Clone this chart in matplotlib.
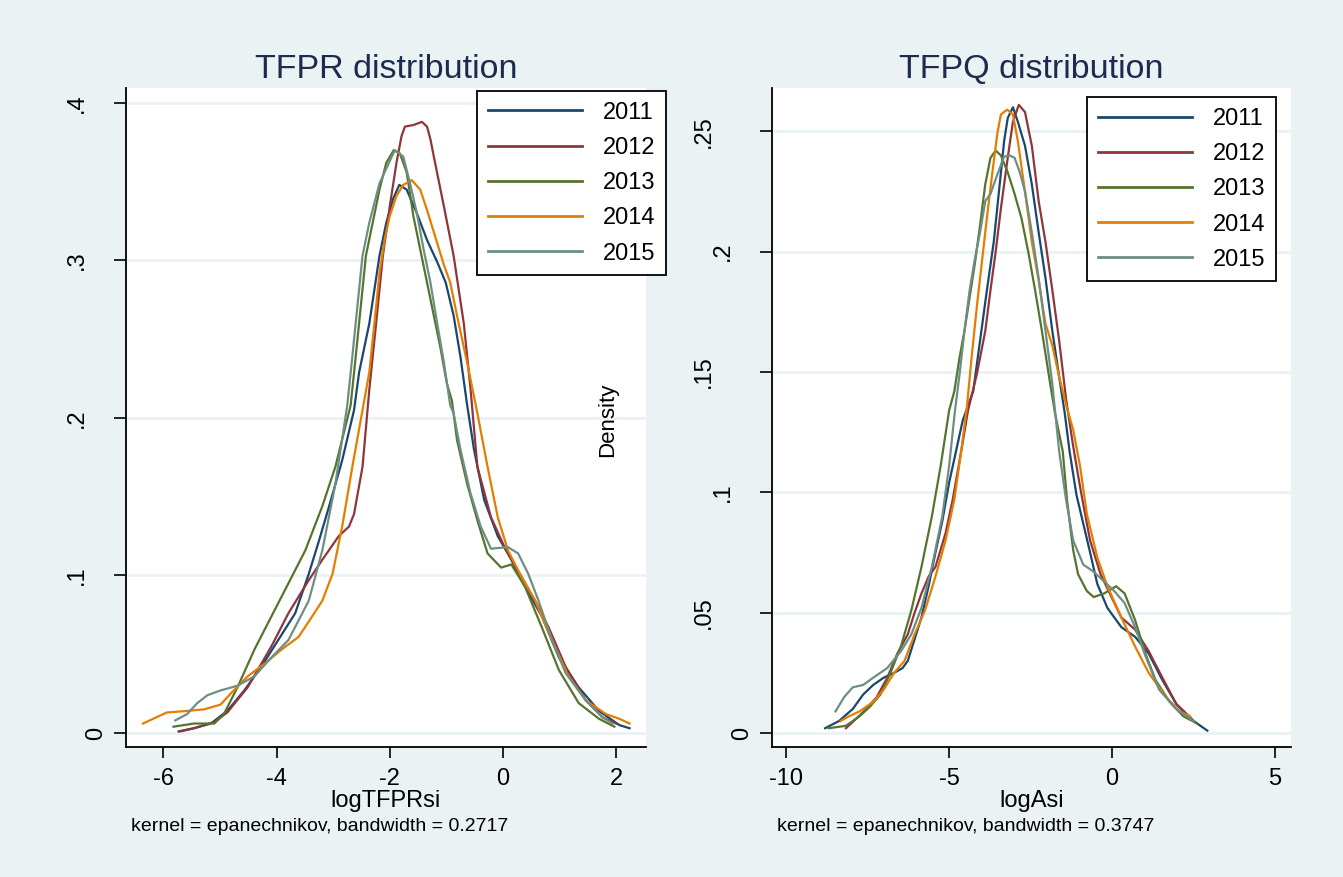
import numpy as np
import matplotlib.pyplot as plt

plt.rcParams['font.family'] = ['Liberation Sans', 'DejaVu Sans']

BG = '#EAF2F3'
TITLE_COLOR = '#1E2A4E'
years = ['2011', '2012', '2013', '2014', '2015']
colors = ['#1A476F', '#90353B', '#55752F', '#E37E00', '#6E8E84']

# TFPR distribution (logTFPRsi), density curves
tfpr_x_2011 = [-5.73, -5.46, -5.16, -4.87, -4.57, -4.27, -3.97, -3.67, -3.43, -3.25, -3.07, -2.84, -2.63, -2.54,
               -2.36, -2.18, -2.06, -1.94, -1.83, -1.70, -1.52, -1.34, -1.16, -1.01, -0.87, -0.75, -0.63, -0.51,
               -0.33, -0.09, 0.15, 0.39, 0.69, 0.99, 1.34, 1.70, 2.06, 2.24]
tfpr_y_2011 = [.001, .003, .006, .014, .027, .042, .059, .076, .101, .122, .144, .173, .205, .229,
               .260, .303, .324, .339, .348, .345, .330, .313, .299, .286, .265, .239, .208, .180,
               .148, .125, .110, .093, .074, .048, .029, .014, .005, .003]
tfpr_x_2012 = [-5.70, -5.46, -5.10, -4.87, -4.51, -4.09, -3.79, -3.43, -3.19, -2.90, -2.72, -2.63, -2.48, -2.36,
               -2.24, -2.12, -2.00, -1.88, -1.79, -1.73, -1.58, -1.43, -1.34, -1.28, -1.22, -1.04, -0.87, -0.69,
               -0.57, -0.45, -0.21, 0.03, 0.27, 0.57, 0.81, 1.11, 1.46, 1.76, 2.00]
tfpr_y_2012 = [.001, .003, .007, .013, .029, .055, .076, .097, .110, .125, .131, .139, .169, .218,
               .260, .303, .334, .362, .379, .385, .386, .388, .385, .377, .366, .334, .303, .260,
               .218, .169, .137, .118, .103, .084, .067, .042, .021, .010, .006]
tfpr_x_2013 = [-5.82, -5.46, -5.10, -4.93, -4.69, -4.39, -4.09, -3.79, -3.49, -3.19, -2.96, -2.69, -2.60, -2.51,
               -2.42, -2.30, -2.18, -2.06, -1.93, -1.82, -1.70, -1.58, -1.46, -1.34, -1.22, -1.10, -0.99, -0.90,
               -0.81, -0.63, -0.45, -0.27, -0.03, 0.15, 0.39, 0.69, 0.99, 1.34, 1.70, 1.97]
tfpr_y_2013 = [.004, .006, .006, .012, .029, .053, .074, .095, .116, .144, .169, .208, .239, .271,
               .303, .324, .345, .362, .370, .368, .356, .328, .307, .286, .265, .244, .222, .211,
               .186, .158, .135, .114, .105, .107, .093, .067, .040, .019, .009, .004]
tfpr_x_2014 = [-6.36, -6.12, -5.94, -5.58, -5.28, -4.99, -4.81, -4.51, -4.21, -3.91, -3.61, -3.37, -3.19, -3.01,
               -2.84, -2.66, -2.48, -2.36, -2.27, -2.18, -2.09, -2.00, -1.88, -1.76, -1.61, -1.46, -1.34, -1.22,
               -1.04, -0.93, -0.81, -0.63, -0.45, -0.27, -0.09, 0.09, 0.33, 0.57, 0.87, 1.16, 1.46, 1.82, 2.06, 2.24]
tfpr_y_2014 = [.006, .010, .013, .014, .015, .018, .025, .036, .044, .053, .061, .074, .084, .101,
               .131, .169, .205, .229, .260, .292, .313, .328, .341, .348, .351, .345, .332, .318,
               .297, .286, .265, .235, .203, .169, .137, .116, .099, .084, .059, .036, .021, .012, .009, .006]
tfpr_x_2015 = [-5.79, -5.58, -5.40, -5.22, -4.99, -4.69, -4.39, -4.09, -3.79, -3.43, -3.19, -2.96, -2.75, -2.66,
               -2.57, -2.48, -2.36, -2.18, -1.91, -1.76, -1.64, -1.52, -1.40, -1.28, -1.16, -1.04, -0.93, -0.87,
               -0.75, -0.57, -0.39, -0.21, 0.09, 0.27, 0.45, 0.63, 0.87, 1.11, 1.46, 1.76, 1.94]
tfpr_y_2015 = [.008, .012, .019, .024, .027, .030, .036, .048, .059, .084, .116, .158, .208, .239,
               .271, .303, .324, .349, .370, .366, .349, .330, .307, .286, .260, .235, .208, .203,
               .180, .152, .131, .117, .118, .114, .101, .084, .059, .038, .021, .010, .006]

# TFPQ distribution (logAsi)
tfpq_x_2011 = [-8.81, -8.38, -7.96, -7.64, -7.33, -7.01, -6.69, -6.43, -6.27, -6.06, -5.85, -5.63, -5.42, -5.21,
               -5.00, -4.79, -4.58, -4.26, -4.05, -3.84, -3.63, -3.47, -3.31, -3.20, -3.04, -2.89, -2.67, -2.46,
               -2.25, -2.04, -1.83, -1.62, -1.45, -1.30, -1.09, -0.88, -0.67, -0.45, -0.14, 0.29, 0.71, 1.13,
               1.55, 1.98, 2.51, 2.93]
tfpq_y_2011 = [.002, .005, .010, .016, .020, .023, .025, .027, .030, .039, .048, .061, .075, .088,
               .104, .117, .130, .142, .163, .184, .204, .225, .246, .2555, .260, .254, .244, .228,
               .208, .189, .167, .148, .133, .117, .099, .087, .075, .062, .052, .044, .040, .033,
               .022, .012, .005, .001]
tfpq_x_2012 = [-8.17, -7.85, -7.54, -7.22, -6.90, -6.59, -6.27, -6.06, -5.85, -5.63, -5.42, -5.11, -4.89, -4.63,
               -4.42, -4.15, -3.89, -3.73, -3.57, -3.41, -3.20, -3.04, -2.86, -2.67, -2.46, -2.25, -2.04, -1.83,
               -1.62, -1.41, -1.20, -1.00, -0.88, -0.67, -0.35, -0.03, 0.29, 0.71, 1.13, 1.55, 1.98, 2.51]
tfpq_y_2012 = [.002, .006, .010, .015, .023, .033, .041, .050, .058, .065, .069, .083, .097, .117,
               .134, .149, .167, .184, .200, .218, .239, .254, .261, .258, .244, .221, .204, .184,
               .163, .139, .120, .104, .095, .080, .066, .057, .048, .043, .034, .023, .012, .005]
tfpq_x_2013 = [-8.70, -8.17, -7.75, -7.43, -7.11, -6.80, -6.48, -6.16, -5.85, -5.53, -5.26, -5.00, -4.84, -4.68,
               -4.53, -4.37, -4.21, -4.05, -3.89, -3.73, -3.57, -3.41, -3.20, -2.99, -2.78, -2.57, -2.36, -2.15,
               -1.93, -1.75, -1.51, -1.38, -1.19, -1.04, -0.77, -0.56, -0.24, 0.13, 0.39, 0.71, 1.03, 1.34,
               1.77, 2.19, 2.61]
tfpq_y_2013 = [.002, .003, .007, .011, .016, .025, .036, .051, .069, .090, .111, .134, .142, .156,
               .167, .181, .195, .211, .228, .239, .242, .240, .233, .224, .214, .200, .184, .167,
               .148, .133, .117, .097, .076, .066, .059, .0565, .058, .061, .058, .047, .033, .022,
               .013, .007, .004]
tfpq_x_2014 = [-8.33, -8.07, -7.75, -7.33, -7.01, -6.69, -6.37, -6.06, -5.74, -5.42, -5.11, -4.84, -4.63, -4.45,
               -4.31, -4.15, -4.00, -3.84, -3.68, -3.52, -3.41, -3.22, -3.04, -2.89, -2.67, -2.46, -2.25, -2.04,
               -1.83, -1.62, -1.40, -1.19, -0.98, -0.77, -0.45, -0.14, 0.29, 0.71, 1.13, 1.66, 2.08, 2.40]
tfpq_y_2014 = [.005, .007, .009, .013, .018, .025, .030, .041, .051, .065, .080, .097, .117, .136,
               .156, .177, .195, .214, .232, .249, .257, .259, .257, .246, .225, .204, .188, .170,
               .161, .148, .136, .126, .111, .091, .073, .061, .048, .036, .025, .015, .009, .007]
tfpq_x_2015 = [-8.49, -8.22, -7.96, -7.64, -7.33, -6.90, -6.48, -6.16, -5.85, -5.53, -5.21, -5.00, -4.82, -4.68,
               -4.53, -4.37, -4.21, -4.05, -3.89, -3.73, -3.52, -3.31, -3.15, -2.99, -2.83, -2.67, -2.46, -2.25,
               -2.04, -1.83, -1.62, -1.41, -1.19, -0.88, -0.56, -0.24, 0.07, 0.39, 0.71, 1.03, 1.45, 1.98, 2.51]
tfpq_y_2015 = [.009, .015, .019, .020, .023, .027, .034, .041, .052, .069, .090, .111, .134, .149,
               .167, .184, .197, .208, .221, .224, .232, .2395, .240, .239, .233, .225, .208, .189,
               .167, .145, .117, .097, .080, .070, .067, .063, .059, .054, .044, .032, .018, .010, .005]

tfpr_x = [tfpr_x_2011, tfpr_x_2012, tfpr_x_2013, tfpr_x_2014, tfpr_x_2015]
tfpr_y = [tfpr_y_2011, tfpr_y_2012, tfpr_y_2013, tfpr_y_2014, tfpr_y_2015]
tfpq_x = [tfpq_x_2011, tfpq_x_2012, tfpq_x_2013, tfpq_x_2014, tfpq_x_2015]
tfpq_y = [tfpq_y_2011, tfpq_y_2012, tfpq_y_2013, tfpq_y_2014, tfpq_y_2015]

tfpr_xticks = [-6, -4, -2, 0, 2]
tfpr_yticks = [0, .1, .2, .3, .4]
tfpr_ylabels = ['0', '.1', '.2', '.3', '.4']
tfpq_xticks = [-10, -5, 0, 5]
tfpq_yticks = [0, .05, .1, .15, .2, .25]
tfpq_ylabels = ['0', '.05', '.1', '.15', '.2', '.25']

W, H = 1343, 877
fig = plt.figure(figsize=(W / 100, H / 100), dpi=100, facecolor=BG)
ax1 = fig.add_axes([126 / W, 1 - 747 / H, 520 / W, 659 / H])
ax2 = fig.add_axes([772 / W, 1 - 747 / H, 519 / W, 659 / H])


def style_panel(ax, xs, ys, xticks, yticks, ylabels, xlim, ylim, xlabel, title, note, legend_anchor):
    for x, y, c, yr in zip(xs, ys, colors, years):
        ax.plot(x, y, color=c, lw=1.6, label=yr)
    ax.set_xlim(*xlim)
    ax.set_ylim(*ylim)
    ax.set_facecolor('white')
    for s in ['top', 'right']:
        ax.spines[s].set_visible(False)
    for s in ['left', 'bottom']:
        ax.spines[s].set_linewidth(1.3)
    ax.set_xticks(xticks)
    ax.set_xticklabels([str(t) for t in xticks])
    ax.set_yticks(yticks)
    ax.set_yticklabels([])
    ax.tick_params(axis='x', length=8, width=1.2, pad=7, labelsize=17)
    ax.tick_params(axis='y', length=9, width=1.2)
    ax.yaxis.grid(True, color=BG, lw=2)
    ax.set_axisbelow(True)
    # Stata-style rotated y labels, shifted by their length
    for v, lab in zip(yticks, ylabels):
        ax.annotate(lab, xy=(0, v), xycoords=('axes fraction', 'data'),
                    xytext=(-(11 + 19 * len(lab)), 0), textcoords='offset pixels',
                    rotation=90, ha='center', va='center', fontsize=17)
    ax.set_xlabel(xlabel, fontsize=17, labelpad=0)
    ax.set_title(title, fontsize=24.5, color=TITLE_COLOR, pad=7)
    leg = ax.legend(loc='upper left', bbox_to_anchor=legend_anchor, fontsize=17,
                    handlelength=4.0, handletextpad=0.9, labelspacing=0.56,
                    borderpad=0.45, borderaxespad=0, fancybox=False, framealpha=1)
    leg.get_frame().set_edgecolor('black')
    leg.get_frame().set_linewidth(1.3)
    for line in leg.get_lines():
        line.set_linewidth(2)
    ax.text(0.01, -0.12, note, transform=ax.transAxes, fontsize=14, va='center')


style_panel(ax1, tfpr_x, tfpr_y, tfpr_xticks, tfpr_yticks, tfpr_ylabels,
            (-6.66, 2.53), (-0.0089, 0.4095), 'logTFPRsi', 'TFPR distribution',
            'kernel = epanechnikov, bandwidth = 0.2717', (0.675, 0.9954))
style_panel(ax2, tfpq_x, tfpq_y, tfpq_xticks, tfpq_yticks, tfpq_ylabels,
            (-10.44, 5.5), (-0.0058, 0.268), 'logAsi', 'TFPQ distribution',
            'kernel = epanechnikov, bandwidth = 0.3747', (0.607, 0.986))

fig.text(608 / W, 1 - 420 / H, 'Density', rotation=90, ha='center', va='center', fontsize=16)

fig.savefig('out.png', dpi=100, facecolor=BG)
